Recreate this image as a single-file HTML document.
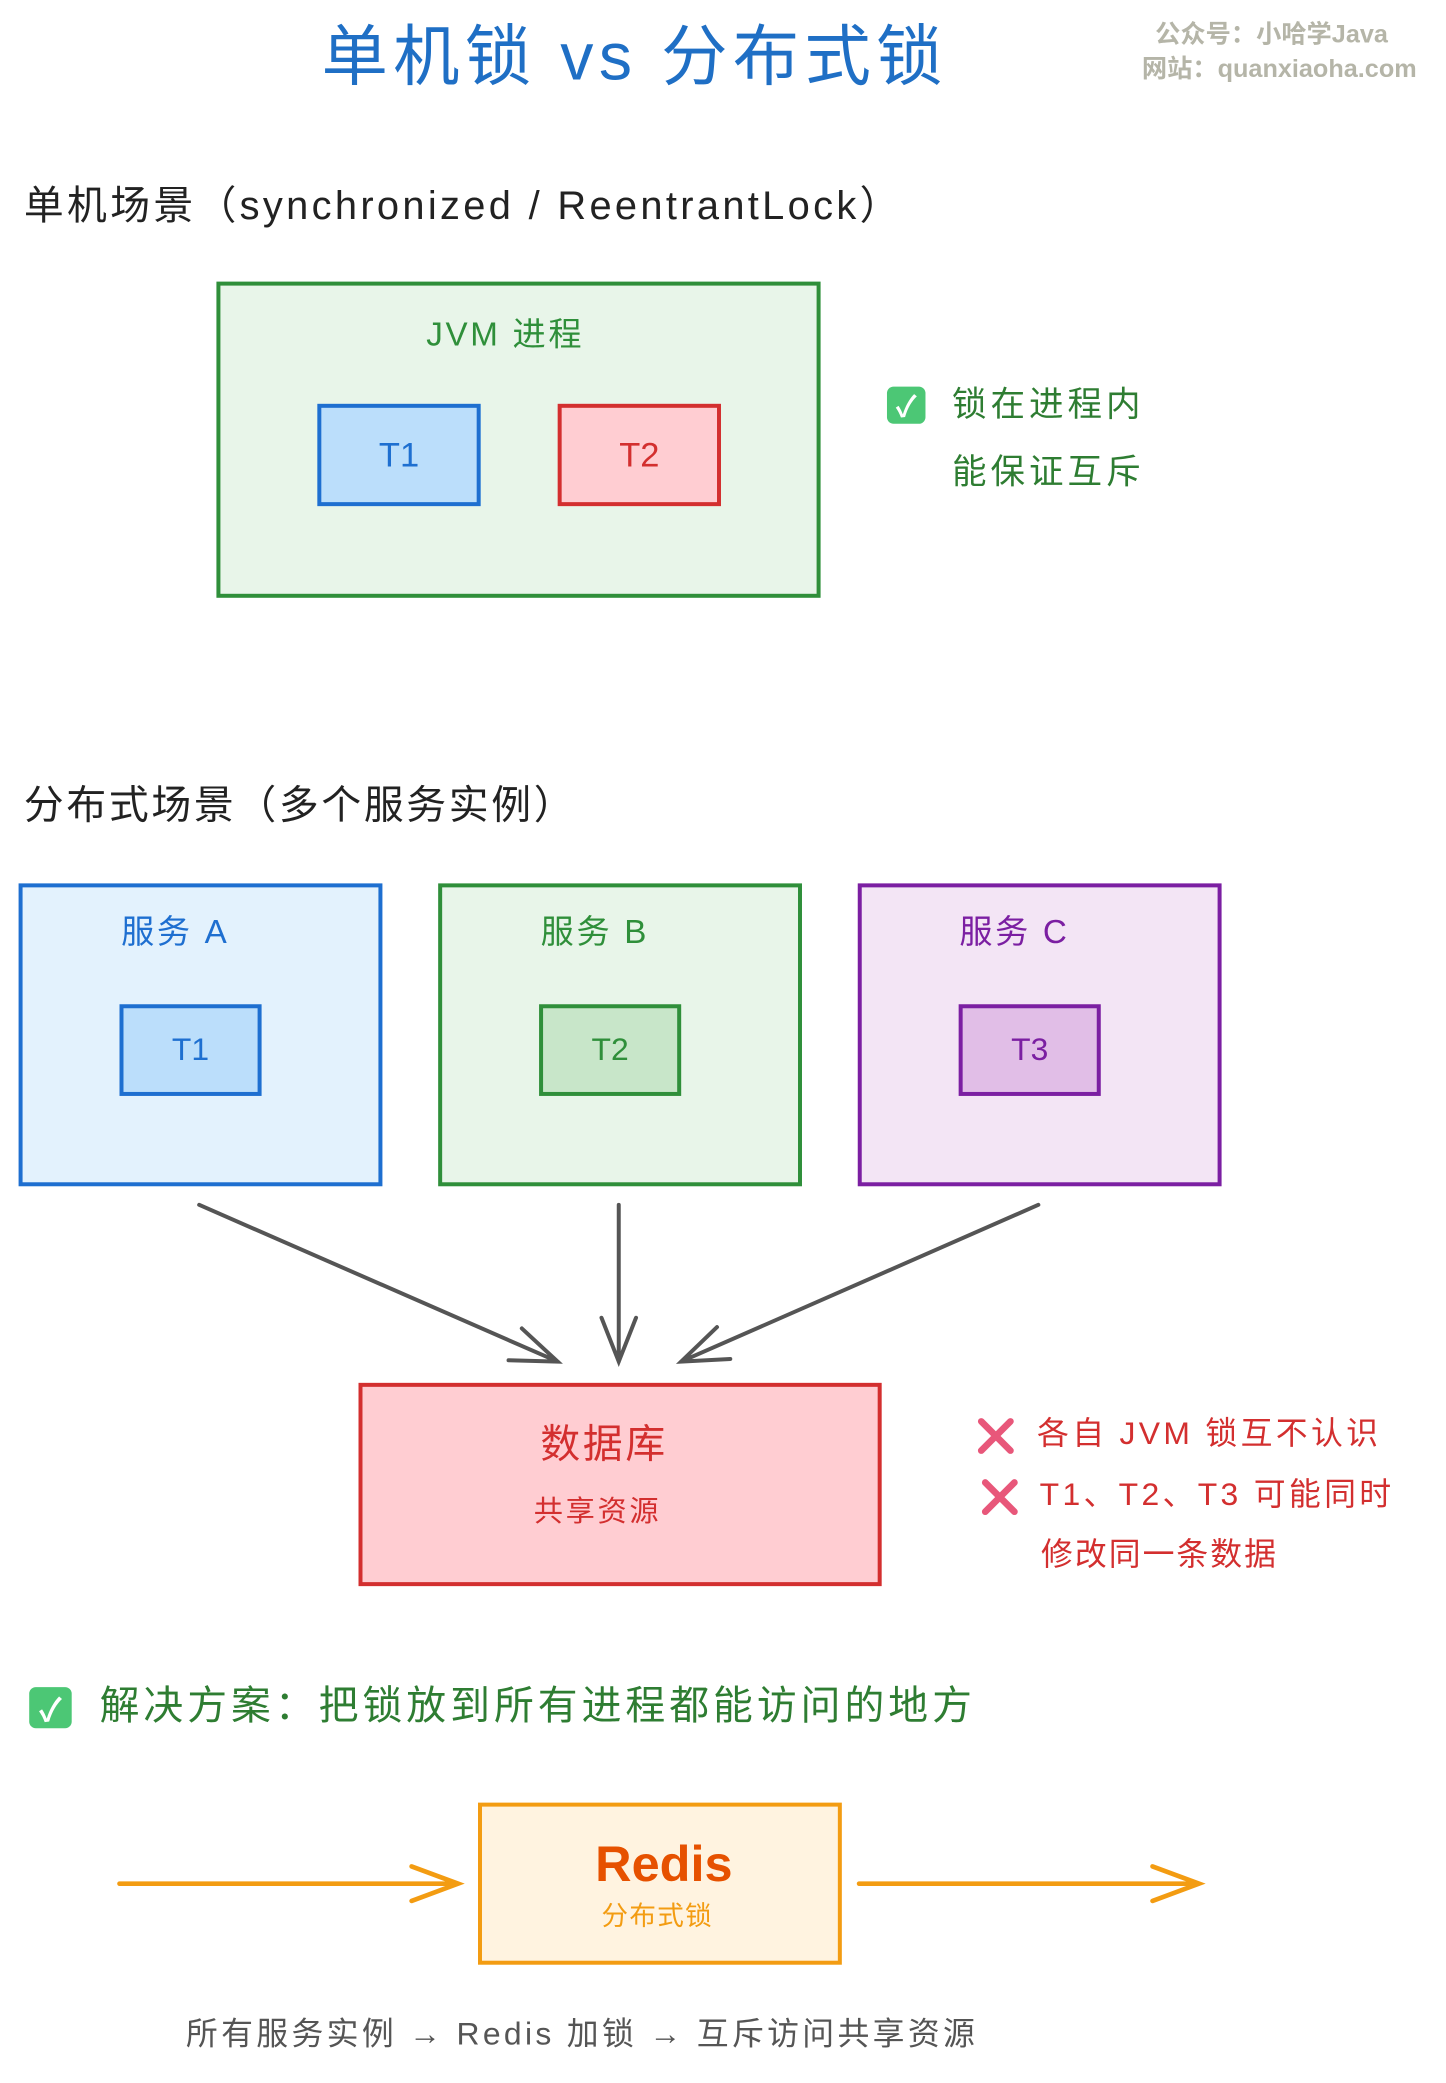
<!DOCTYPE html>
<html><head><meta charset="utf-8"><style>
html,body{margin:0;padding:0;background:#fff;}
body{width:1446px;height:2083px;overflow:hidden;position:relative;}
#c{position:absolute;left:0;top:0;width:1089px;height:1568px;transform:scale(1.3278,1.3284);transform-origin:0 0;font-family:"Liberation Sans","Noto Sans CJK SC",sans-serif;}
.t{position:absolute;white-space:nowrap;line-height:1;}
.b{position:absolute;box-sizing:border-box;border:3px solid;}
.cc{display:flex;align-items:center;justify-content:center;}
</style></head><body><div id="c">
<div class="t" style="left:0;width:956px;text-align:center;top:18px;font-size:50px;color:#1f6fc5;letter-spacing:4px;">单机锁 vs 分布式锁</div>
<div class="t" style="left:870px;top:17px;font-size:19px;color:#b5b5a8;font-weight:bold;">公众号：小哈学Java</div>
<div class="t" style="left:860px;top:43px;font-size:19px;color:#b5b5a8;font-weight:bold;">网站：quanxiaoha.com</div>

<div class="t" style="left:18px;top:141px;font-size:30px;color:#222;letter-spacing:2.5px;">单机场景（synchronized / ReentrantLock）</div>
<div class="b" style="left:163px;top:212px;width:455px;height:238px;border-color:#2f8f3a;background:#e8f5e9;"></div>
<div class="t" style="left:163px;width:435px;text-align:center;top:240px;font-size:25px;color:#2f8f3a;letter-spacing:2px;">JVM 进程</div>
<div class="b cc" style="left:239px;top:304px;width:123px;height:77px;border-color:#1e6fd0;background:#bbdefb;color:#1e6fd0;font-size:26px;">T1</div>
<div class="b cc" style="left:420px;top:304px;width:123px;height:77px;border-color:#d32f2f;background:#ffcdd2;color:#d32f2f;font-size:26px;">T2</div>
<div class="cc" style="position:absolute;left:668px;top:291px;width:29px;height:28px;border-radius:5px;background:#4cc775;color:#fff;font-size:22px;font-weight:bold;">✓</div>
<div class="t" style="left:717px;top:291px;font-size:26px;color:#2e7d32;letter-spacing:3px;">锁在进程内</div>
<div class="t" style="left:717px;top:342px;font-size:26px;color:#2e7d32;letter-spacing:3px;">能保证互斥</div>

<div class="t" style="left:18px;top:592px;font-size:30px;color:#222;letter-spacing:2px;">分布式场景（多个服务实例）</div>
<div class="b" style="left:14px;top:665px;width:274px;height:228px;border-color:#1e6fd0;background:#e3f2fd;"></div>
<div class="t" style="left:14px;width:236px;text-align:center;top:690px;font-size:25px;color:#1e6fd0;letter-spacing:2px;">服务 A</div>
<div class="b cc" style="left:90px;top:756px;width:107px;height:69px;border-color:#1e6fd0;background:#bbdefb;color:#1e6fd0;font-size:24px;">T1</div>
<div class="b" style="left:330px;top:665px;width:274px;height:228px;border-color:#2f8f3a;background:#e8f5e9;"></div>
<div class="t" style="left:330px;width:236px;text-align:center;top:690px;font-size:25px;color:#2f8f3a;letter-spacing:2px;">服务 B</div>
<div class="b cc" style="left:406px;top:756px;width:107px;height:69px;border-color:#2f8f3a;background:#c8e6c9;color:#2f8f3a;font-size:24px;">T2</div>
<div class="b" style="left:646px;top:665px;width:274px;height:228px;border-color:#7b1fa2;background:#f3e5f5;"></div>
<div class="t" style="left:646px;width:236px;text-align:center;top:690px;font-size:25px;color:#7b1fa2;letter-spacing:2px;">服务 C</div>
<div class="b cc" style="left:722px;top:756px;width:107px;height:69px;border-color:#7b1fa2;background:#e1bee7;color:#7b1fa2;font-size:24px;">T3</div>

<svg style="position:absolute;left:0;top:0" width="1089" height="1568">
<g stroke="#555" stroke-width="3" fill="none" stroke-linecap="round">
<path d="M150 907 L420 1025 M393 1000 L420 1025 L383 1024"/>
<path d="M466 907 L466 1025 M453 992 L466 1025 L479 992"/>
<path d="M782 907 L513 1025 M550 1023 L513 1025 L540 999"/>
</g>
<g stroke="#f39c12" stroke-width="3.5" fill="none" stroke-linecap="round">
<path d="M90 1418 L345 1418 M310 1405 L345 1418 L310 1431"/>
<path d="M647 1418 L903 1418 M868 1405 L903 1418 L868 1431"/>
</g>
<g stroke="#e8577a" stroke-width="5" stroke-linecap="round">
<path d="M739 1070 L761 1092 M761 1070 L739 1092"/>
<path d="M742 1116 L764 1138 M764 1116 L742 1138"/>
</g>
</svg>

<div class="b" style="left:270px;top:1041px;width:394px;height:153px;border-color:#d32f2f;background:#ffcdd2;"></div>
<div class="t" style="left:270px;width:370px;text-align:center;top:1073px;font-size:30px;color:#d32f2f;letter-spacing:2px;">数据库</div>
<div class="t" style="left:270px;width:360px;text-align:center;top:1127px;font-size:22px;color:#d32f2f;letter-spacing:2px;">共享资源</div>
<div class="t" style="left:781px;top:1068px;font-size:24px;color:#d32f2f;letter-spacing:2.5px;">各自 JVM 锁互不认识</div>
<div class="t" style="left:783px;top:1114px;font-size:24px;color:#d32f2f;letter-spacing:2.5px;">T1、T2、T3 可能同时</div>
<div class="t" style="left:784px;top:1159px;font-size:24px;color:#d32f2f;letter-spacing:1.5px;">修改同一条数据</div>

<div class="cc" style="position:absolute;left:22px;top:1270px;width:32px;height:31px;border-radius:5px;background:#4cc775;color:#fff;font-size:24px;font-weight:bold;">✓</div>
<div class="t" style="left:75px;top:1270px;font-size:30px;color:#2e7d32;letter-spacing:3px;">解决方案：把锁放到所有进程都能访问的地方</div>

<div class="b" style="left:360px;top:1357px;width:274px;height:122px;border-color:#f39c12;background:#fff3e0;"></div>
<div class="t" style="left:360px;width:280px;text-align:center;top:1385px;font-size:38px;color:#e65100;font-weight:bold;">Redis</div>
<div class="t" style="left:360px;width:270px;text-align:center;top:1433px;font-size:20px;color:#f39c12;letter-spacing:1px;">分布式锁</div>

<div class="t" style="left:140px;top:1520px;font-size:24px;color:#555;letter-spacing:2.5px;">所有服务实例 → Redis 加锁 → 互斥访问共享资源</div>
</div></body></html>
